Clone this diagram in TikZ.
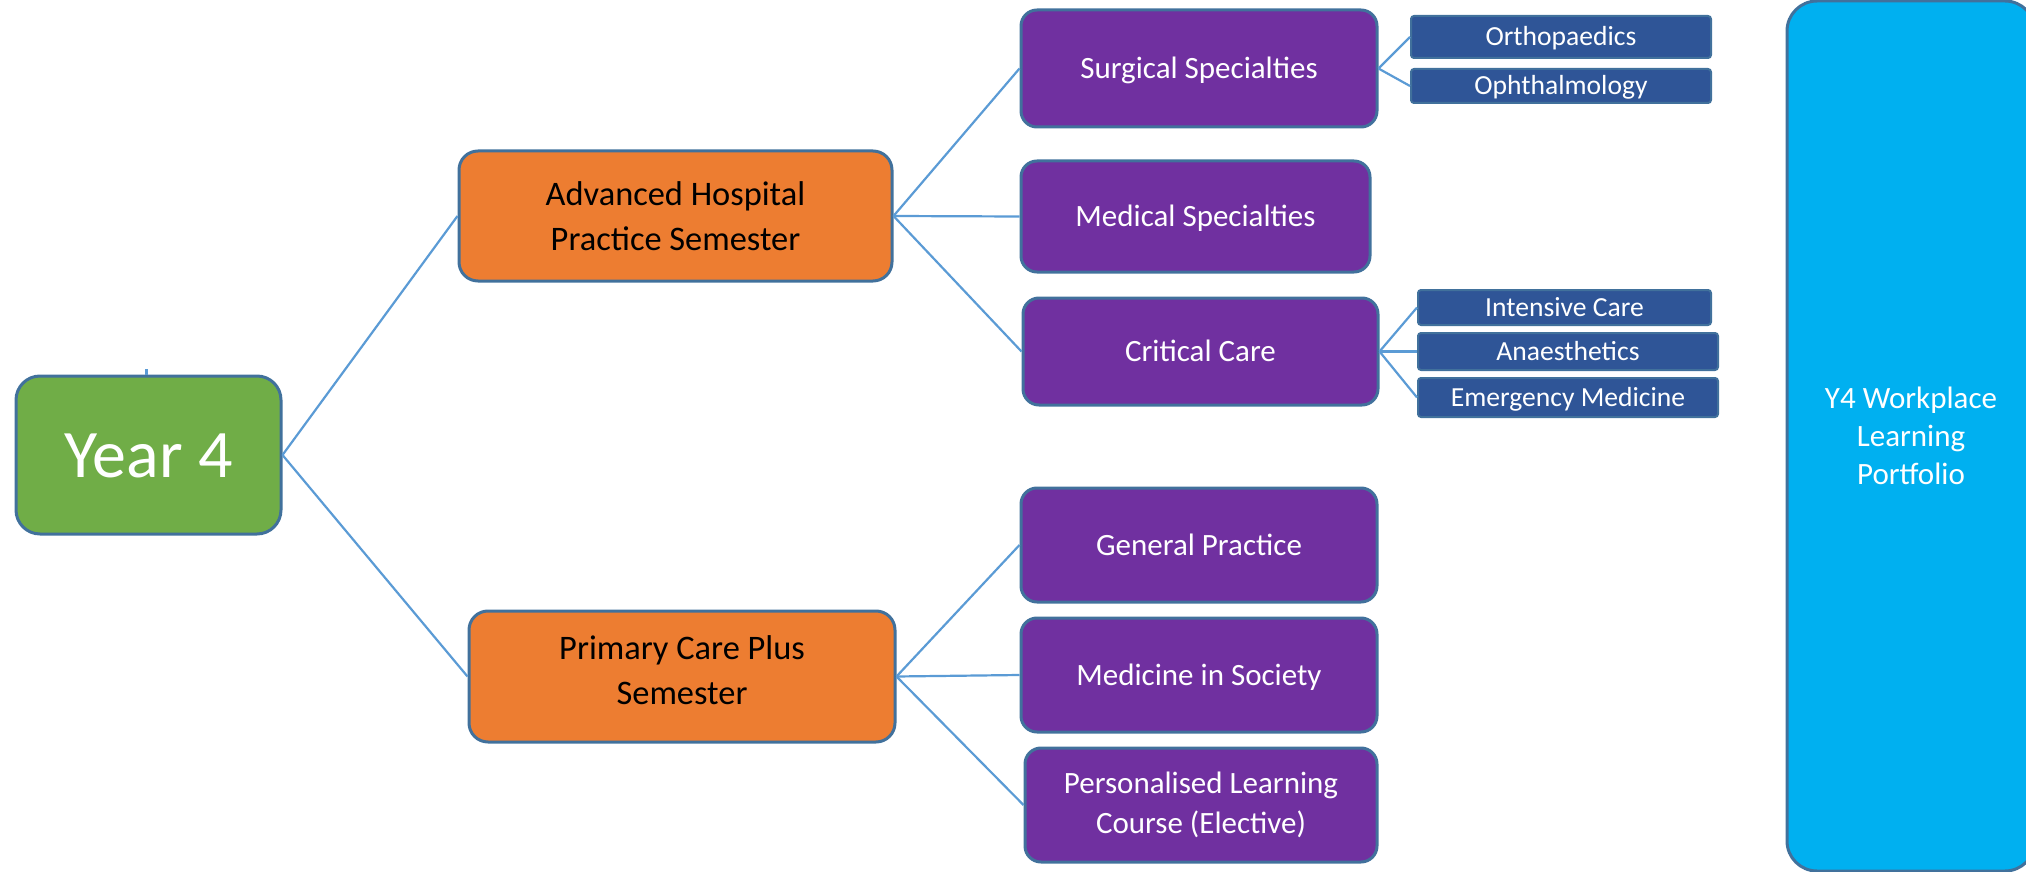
\documentclass[tikz,border=0pt]{standalone}
\usepackage{fontspec}
\setmainfont{Carlito}
\usetikzlibrary{calc}
\definecolor{bordc}{HTML}{41719C}
\definecolor{ygreen}{HTML}{70AD47}
\definecolor{orng}{HTML}{ED7D31}
\definecolor{purp}{HTML}{7030A0}
\definecolor{dblue}{HTML}{2F5597}
\definecolor{cyanb}{HTML}{00B0F0}
\definecolor{lineblue}{HTML}{5B9BD5}
\begin{document}
\begin{tikzpicture}[x=0.5pt,y=-0.5pt,
  base/.style={draw=bordc, line width=1.5pt, inner sep=0pt, align=center, text=white},
  yearbox/.style={base, fill=ygreen, rounded corners=12pt, font=\fontsize{34}{40}\selectfont, text height=25.5pt, text depth=3.4pt},
  sembox/.style={base, fill=orng, rounded corners=9.5pt, text=black, font=\fontsize{17.2}{22.5}\selectfont},
  subbox/.style={base, fill=purp, rounded corners=8pt, font=\fontsize{15.5}{20}\selectfont},
  subone/.style={subbox, text height=11.6pt, text depth=1.55pt},
  leafbox/.style={base, fill=dblue, rounded corners=1.5pt, line width=1pt, font=\fontsize{13.8}{16}\selectfont, text height=10.4pt, text depth=1.4pt},
  portbox/.style={base, fill=cyanb, rounded corners=15pt, font=\fontsize{15.5}{19}\selectfont},
  conn/.style={draw=lineblue, line width=1.1pt}]
\useasboundingbox (0,0) rectangle (2026,872);
\clip (0,0) rectangle (2026,872);

% main nodes
\node[yearbox, minimum width=132.5pt, minimum height=79pt] (year) at (148.5,455) {Year 4};
\node[sembox, minimum width=216.5pt, minimum height=65pt] (adv) at (675.5,216) {Advanced Hospital\\Practice Semester};
\node[sembox, minimum width=213pt, minimum height=65.5pt, text depth=6pt] (prim) at (682,676.5) {Primary Care Plus\\Semester};

% purple
\node[subone, minimum width=178pt, minimum height=58.5pt] (surg) at (1199,68.5) {Surgical Specialties};
\node[subone, minimum width=174.5pt, minimum height=55.5pt] (med) at (1195.5,216.5) {Medical Specialties};
\node[subone, minimum width=177.5pt, minimum height=53.5pt] (crit) at (1200.5,351.5) {Critical Care};
\node[subone, minimum width=178pt, minimum height=57pt] (gp) at (1199,545) {General Practice};
\node[subone, minimum width=178pt, minimum height=57pt] (mis) at (1199,675) {Medicine in Society};
\node[subbox, minimum width=176pt, minimum height=57pt] (pers) at (1201,805) {Personalised Learning\\Course (Elective)};

% leaves
\node[leafbox, minimum width=150pt, minimum height=21pt] (ortho) at (1561,37) {Orthopaedics};
\node[leafbox, minimum width=150pt, minimum height=17pt] (ophth) at (1561,86) {Ophthalmology};
\node[leafbox, minimum width=146.5pt, minimum height=17.5pt] (intens) at (1564.5,307.5) {Intensive Care};
\node[leafbox, minimum width=150pt, minimum height=18.5pt] (anaes) at (1568,351.5) {Anaesthetics};
\node[leafbox, minimum width=150pt, minimum height=19.5pt] (emerg) at (1568,397.5) {Emergency Medicine};

% portfolio
\node[portbox, minimum width=124pt, minimum height=435pt] (port) at (1911,436) {Y4 Workplace\\Learning\\Portfolio};

% connectors
\coordinate (stub) at ($(year.north)+(-2,-6)$);
\draw[conn] ([xshift=-1pt]year.north) -- (stub);
\draw[conn] (year.east) -- (adv.west);
\draw[conn] (year.east) -- (prim.west);
\draw[conn] (adv.east) -- (surg.west);
\draw[conn] (adv.east) -- (med.west);
\draw[conn] (adv.east) -- (crit.west);
\draw[conn] (prim.east) -- (gp.west);
\draw[conn] (prim.east) -- (mis.west);
\draw[conn] (prim.east) -- (pers.west);
\draw[conn] (surg.east) -- (ortho.west);
\draw[conn] (surg.east) -- (ophth.west);
\draw[conn] (crit.east) -- (intens.west);
\draw[conn] (crit.east) -- (anaes.west);
\draw[conn] (crit.east) -- (emerg.west);
\end{tikzpicture}
\end{document}
